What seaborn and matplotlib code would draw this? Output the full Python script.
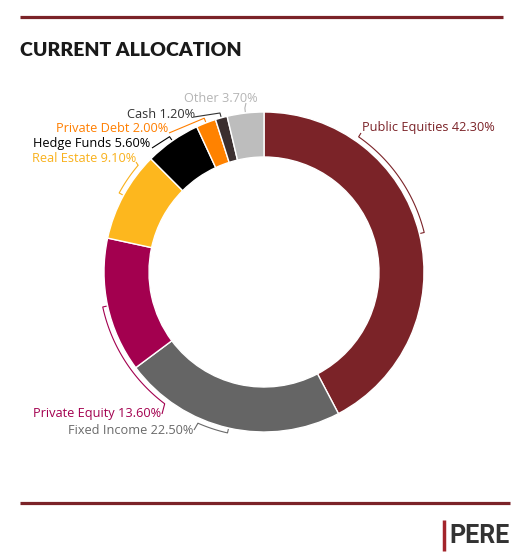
import numpy as np
import matplotlib
matplotlib.use("Agg")
import matplotlib.pyplot as plt
import seaborn as sns

# === Данные ===
categories = ["Public Equities", "Fixed Income", "Private Equity", "Real Estate",
              "Hedge Funds", "Private Debt", "Cash", "Other"]
shares = [42.3, 22.5, 13.6, 9.1, 5.6, 2.0, 1.2, 3.7]
wedge_colors = ["#7b2328", "#656565", "#a3004f", "#fdb71e",
                "#000000", "#ff8200", "#3b2f2f", "#bdbdbd"]
label_colors = ["#7b2328", "#6a6a6a", "#a3004f", "#f9b11c",
                "#000000", "#ff7f00", "#333333", "#b5b5b5"]

# раскладка подписей (пиксели картинки): текст, точка у текста, конец скобки (угол)
label_xy = [(362, 128, "left"), (193, 430, "right"), (161, 413, "right"),
            (136, 159, "right"), (150, 143, "right"), (168, 129, "right"),
            (195, 114, "right"), (258, 99, "right")]
link_xy = [(361, 133), (194, 430), (162, 414), (136, 162),
           (152, 148), (169, 133), (194, 117), (246, 103)]
arc_end = [55, 246.4, 233, 139.7, None, None, None, None]

W, H = 530, 560
CX, CY, R, RING = 264, 272, 160, 45
RB, RT = 165, 161


def Y(y):
    return H - y


def main():
    sns.set_theme(style="white")
    plt.rcParams["font.family"] = ["Open Sans", "DejaVu Sans"]

    fig = plt.figure(figsize=(W / 100, H / 100), dpi=100)
    ax = fig.add_axes([0, 0, 1, 1])

    pal = sns.color_palette(wedge_colors)
    ax.pie(shares, colors=pal, startangle=90, counterclock=False,
           radius=R, center=(CX, Y(CY)),
           wedgeprops=dict(width=RING, edgecolor="white", linewidth=1))

    # === Подписи со скобками ===
    cum = np.cumsum([0] + shares[:-1])
    for i, (name, v) in enumerate(zip(categories, shares)):
        mid = 90 - 3.6 * cum[i] - 1.8 * v
        a_end = mid if arc_end[i] is None else arc_end[i]
        if arc_end[i] is not None and a_end - mid > 180:
            a_end -= 360
        th = np.radians(np.linspace(a_end, mid, 60))
        xs = list(CX + RB * np.cos(th))
        ys = list(Y(CY) + RB * np.sin(th))
        tm = np.radians(mid)
        xs.append(CX + RT * np.cos(tm))
        ys.append(Y(CY) + RT * np.sin(tm))
        lx, ly = link_xy[i]
        xs.insert(0, lx)
        ys.insert(0, Y(ly))
        ax.plot(xs, ys, color=label_colors[i], lw=0.8, solid_capstyle="butt")

        tx, ty, ha = label_xy[i]
        ax.text(tx, Y(ty), f"{name} {v:.2f}%", ha=ha, va="center",
                fontsize=9.2, color=label_colors[i])

    # === Оформление ===
    red = "#7b2328"
    ax.plot([20, 503], [Y(17), Y(17)], color=red, lw=2.3, solid_capstyle="butt")
    ax.plot([20, 510], [Y(503), Y(503)], color=red, lw=2.3, solid_capstyle="butt")
    ax.text(20, Y(50), "CURRENT ALLOCATION", ha="left", va="center",
            fontsize=14, fontweight="heavy", color="#1a1a1a",
            family=["Lato", "DejaVu Sans"])
    ax.plot([444, 444], [Y(520), Y(551)], color="#a3242b", lw=2.5, solid_capstyle="butt")
    ax.text(449, Y(536), "PERE", ha="left", va="center", fontsize=18,
            fontweight="bold", color="#333333", family=["Roboto", "DejaVu Sans"])

    ax.set_xlim(0, W)
    ax.set_ylim(0, H)
    ax.set_aspect("equal")
    ax.axis("off")
    fig.savefig("out.png", dpi=100, facecolor="white")
    plt.close(fig)


if __name__ == "__main__":
    main()
